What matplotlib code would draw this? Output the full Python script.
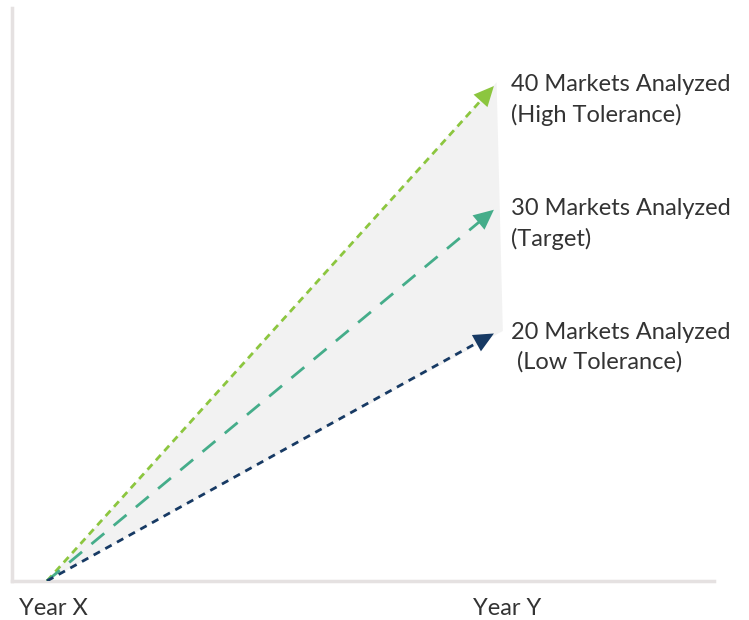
import matplotlib
matplotlib.use('Agg')
import matplotlib.pyplot as plt

plt.rcParams['font.family'] = ['Lato', 'DejaVu Sans']

years = ['Year X', 'Year Y']
start = 0
targets = [40, 30, 20]
labels = ['40 Markets Analyzed\n(High Tolerance)',
          '30 Markets Analyzed\n(Target)',
          '20 Markets Analyzed\n (Low Tolerance)']
colors = ['#8cc63f', '#45ad8a', '#173a64']
dashes = [(2.6, 1.9), (6.0, 4.4), (2.6, 2.2)]

fig = plt.figure(figsize=(7.49, 6.2), dpi=100)
ax = fig.add_axes([0.016, 0.063, 0.937, 0.924])
ax.set_xlim(-0.0783, 1.492)
ax.set_ylim(0, 46.3)

# shaded band between the low and high paths
ax.fill([0, 1.006, 1.02], [start, max(targets) + 0.3, min(targets) + 0.2],
        color='#f2f2f2', lw=0, zorder=1)

for val, lab, col, dsh in zip(targets, labels, colors, dashes):
    # dashed line stops short, arrow head drawn separately
    ax.plot([0, 0.98], [start, start + (val - start) * 0.98], color=col, lw=2.0,
            dashes=dsh, zorder=3)
    ax.annotate('', xy=(1, val), xytext=(0.94, start + (val - start) * 0.94),
                arrowprops=dict(arrowstyle='-|>,head_length=0.9,head_width=0.42',
                                color=col, lw=0, shrinkA=0, shrinkB=0,
                                mutation_scale=16), zorder=4)
    ax.annotate(lab, xy=(1, val), xytext=(12, -10), textcoords='offset points',
                ha='left', va='center', fontsize=17, color='#333333',
                linespacing=1.5)

ax.text(-0.063, -0.03, years[0], transform=ax.get_xaxis_transform(), ha='left',
        va='top', fontsize=17, color='#333333')
ax.text(0.953, -0.03, years[1], transform=ax.get_xaxis_transform(), ha='left',
        va='top', fontsize=17, color='#333333')

for side in ['top', 'right']:
    ax.spines[side].set_visible(False)
for side in ['left', 'bottom']:
    ax.spines[side].set_color('#e5e1e1')
    ax.spines[side].set_linewidth(2.5)
ax.set_xticks([])
ax.set_yticks([])

fig.savefig('out.png', dpi=100)
